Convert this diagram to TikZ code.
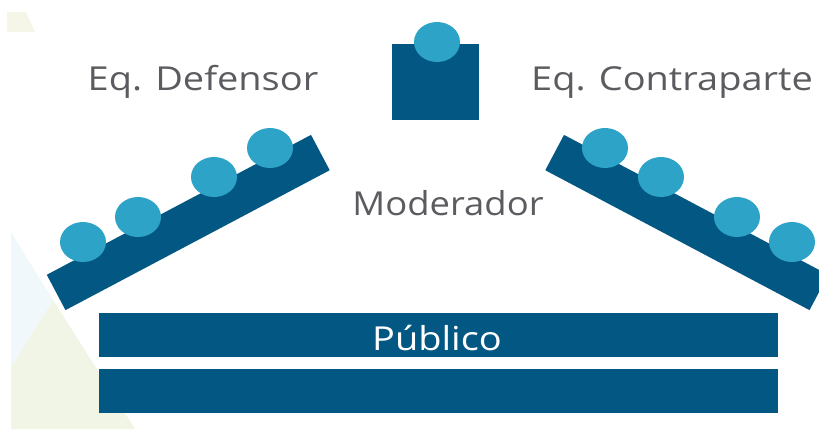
\documentclass[tikz,border=0pt]{standalone}
\usepackage{fontspec}
\setmainfont{Open Sans}
\usepackage{tikz}
\usetikzlibrary{shapes.geometric}
\definecolor{benchblue}{HTML}{035783}
\definecolor{seatblue}{HTML}{2DA3C7}
\definecolor{labelgray}{HTML}{5B5B60}
\definecolor{paleblue}{HTML}{F0F8FB}
\definecolor{palegreen}{HTML}{F0F5E6}
\definecolor{palecream}{HTML}{F5F5E8}
\tikzset{bench/.style={rectangle,fill=benchblue,inner sep=0pt},
         seat/.style={ellipse,fill=seatblue,inner sep=0pt,minimum width=46pt,minimum height=40pt},
         label/.style={text=labelgray,anchor=base,xscale=1.15,font=\fontsize{33}{35}\selectfont}}

\begin{document}
\begin{tikzpicture}[x=1pt,y=-1pt]
\useasboundingbox (0,0) rectangle (819,429);
% faint background shapes
\fill[palecream] (7,12) -- (26,12) -- (35,32) -- (7,32) -- cycle;
\fill[paleblue] (11,232) -- (53,300) -- (11,368) -- cycle;
\fill[palegreen] (53,300) -- (135,429) -- (11,429) -- (11,368) -- cycle;

\node[bench,minimum width=87pt,minimum height=76pt] (mod) at (435.5,82) {};
\node[bench,minimum width=299pt,minimum height=40pt,rotate=27.9] (benchL) at (188.25,222.5) {};
\node[bench,minimum width=299pt,minimum height=40pt,rotate=-27.9] (benchR) at (686.75,222.5) {};
\node[bench,minimum width=679pt,minimum height=44pt] (pub1) at (438.5,335) {};
\node[bench,minimum width=679pt,minimum height=44pt] (pub2) at (438.5,391) {};

\begin{scope}[every node/.style={seat}]
\node (modS) at (437,42) {};
\node (L1) at (83,242) {};
\node (L2) at (138,217) {};
\node (L3) at (214,177) {};
\node (L4) at (270,148) {};
\node (R1) at (605,148) {};
\node (R2) at (661,177) {};
\node (R3) at (737,217) {};
\node (R4) at (792,242) {};
\end{scope}

\node[label] (defLabel) at (203,90) {Eq. Defensor};
\node[label] (conLabel) at (672,90) {Eq. Contraparte};
\node[label,xscale=0.96] (modLabel) at (448,215) {Moderador};
\node[label,text=white] (pubLabel) at (437,350) {Público};
\end{tikzpicture}
\end{document}
